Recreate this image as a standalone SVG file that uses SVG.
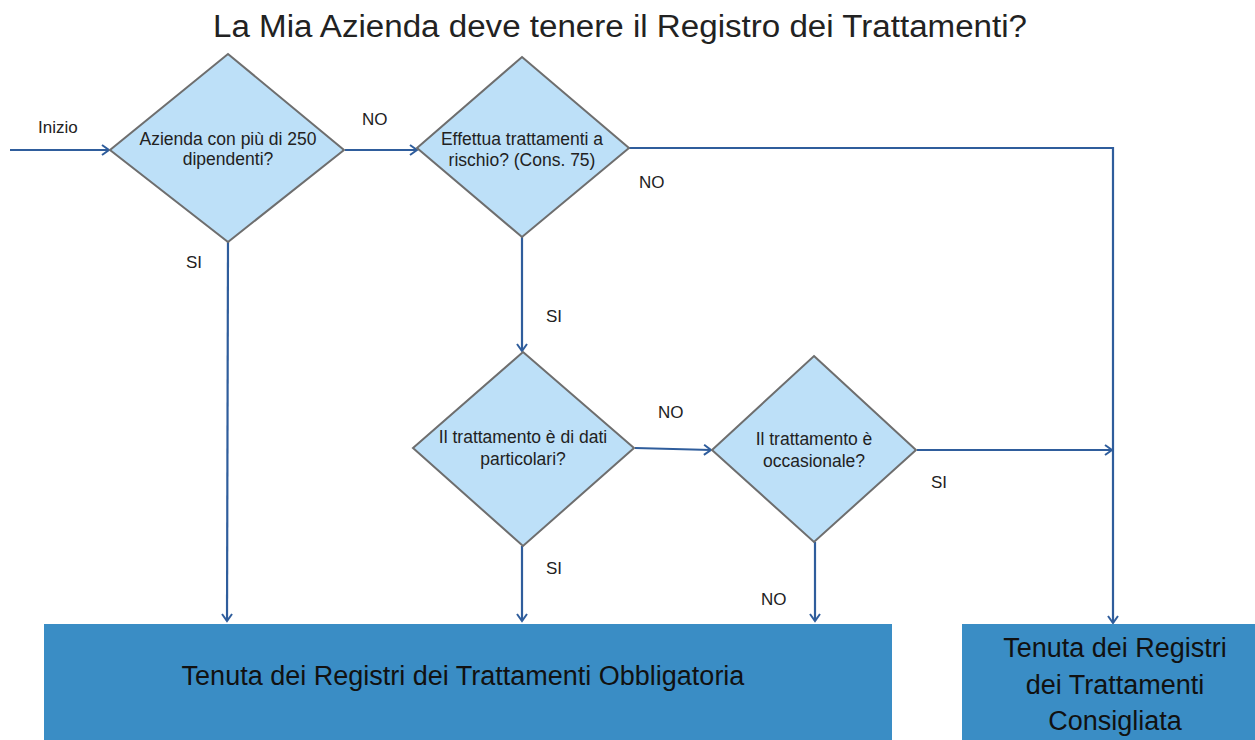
<svg xmlns="http://www.w3.org/2000/svg" width="1255" height="740" viewBox="0 0 1255 740">
<style>
.dia{fill:#bde0f8;stroke:#6e6e6e;stroke-width:2}
.box{fill:#3a8dc5}
.dt{font-family:"Liberation Sans",Arial,sans-serif;font-size:17.5px;fill:#222;text-anchor:middle}
.lb{font-family:"Liberation Sans",Arial,sans-serif;font-size:17px;fill:#222}
.bt{font-family:"Liberation Sans",Arial,sans-serif;font-size:27px;fill:#111;text-anchor:middle}
.cn{fill:none;stroke:#2f5d9c;stroke-width:2.2}
</style>
<defs>
<marker id="arr" markerWidth="12" markerHeight="12" refX="10" refY="6" orient="auto" markerUnits="userSpaceOnUse">
<path d="M3,1 L10,6 L3,11" fill="none" stroke="#2f5d9c" stroke-width="2"/>
</marker>
</defs>
<rect width="1255" height="740" fill="#ffffff"/>
<text x="620" y="37" font-family="Liberation Sans,Arial,sans-serif" font-size="31" fill="#222" text-anchor="middle" textLength="814" lengthAdjust="spacingAndGlyphs">La Mia Azienda deve tenere il Registro dei Trattamenti?</text>

<g id="connectors">
<path class="cn" d="M10,150 L109,150" marker-end="url(#arr)"/>
<path class="cn" d="M345,150 L417,150" marker-end="url(#arr)"/>
<path class="cn" d="M629,148 L1113,148 L1113,623" marker-end="url(#arr)"/>
<path class="cn" d="M228,242 L227,621" marker-end="url(#arr)"/>
<path class="cn" d="M522,237 L522,351" marker-end="url(#arr)"/>
<path class="cn" d="M635,448 L711,450" marker-end="url(#arr)"/>
<path class="cn" d="M917,450 L1112,450" marker-end="url(#arr)"/>
<path class="cn" d="M522,546 L522,621" marker-end="url(#arr)"/>
<path class="cn" d="M815,542 L815,621" marker-end="url(#arr)"/>
<text class="lb" x="38" y="133">Inizio</text>
<text class="lb" x="362" y="125">NO</text>
<text class="lb" x="639" y="188">NO</text>
<text class="lb" x="186" y="268">SI</text>
<text class="lb" x="546" y="322">SI</text>
<text class="lb" x="658" y="418">NO</text>
<text class="lb" x="931" y="488">SI</text>
<text class="lb" x="546" y="574">SI</text>
<text class="lb" x="761" y="605">NO</text>
</g>

<g id="d1">
<polygon class="dia" points="228,54 344,150 228,242 110,150"/>
<text class="dt" x="228" y="145">Azienda con più di 250</text>
<text class="dt" x="228" y="165">dipendenti?</text>
</g>
<g id="d2">
<polygon class="dia" points="522,57 629,148 522,237 417,148"/>
<text class="dt" x="522" y="145">Effettua trattamenti a</text>
<text class="dt" x="522" y="166">rischio? (Cons. 75)</text>
</g>
<g id="d3">
<polygon class="dia" points="523,352 634,448 523,546 413,448"/>
<text class="dt" x="523" y="443">Il trattamento è di dati</text>
<text class="dt" x="523" y="465">particolari?</text>
</g>
<g id="d4">
<polygon class="dia" points="814,356 916,450 814,542 712,450"/>
<text class="dt" x="814" y="445">Il trattamento è</text>
<text class="dt" x="814" y="467">occasionale?</text>
</g>

<g id="b1">
<rect class="box" x="44" y="624" width="848" height="116"/>
<text class="bt" x="463" y="685">Tenuta dei Registri dei Trattamenti Obbligatoria</text>
</g>
<g id="b2">
<rect class="box" x="962" y="624" width="293" height="116"/>
<text class="bt" x="1115" y="657">Tenuta dei Registri</text>
<text class="bt" x="1115" y="694">dei Trattamenti</text>
<text class="bt" x="1115" y="730">Consigliata</text>
</g>
</svg>
